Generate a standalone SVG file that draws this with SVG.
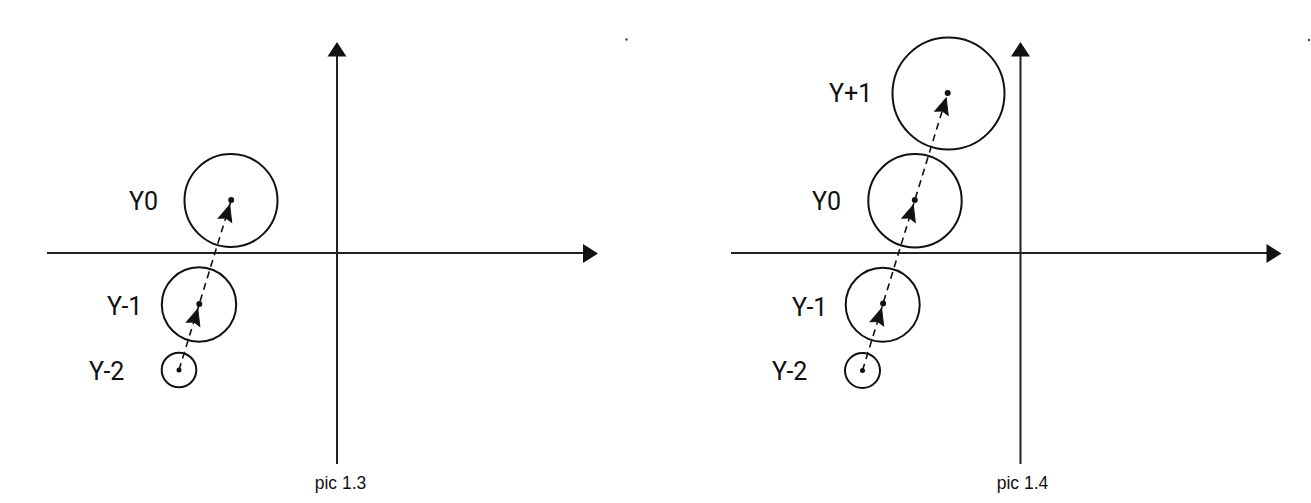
<svg xmlns="http://www.w3.org/2000/svg" width="1311" height="503" viewBox="0 0 1311 503">
<style>
.axis{stroke:#222;stroke-width:2;fill:none}
.ah{fill:#111;stroke:none}
.dart{fill:#111;stroke:#111;stroke-width:1;stroke-linejoin:miter}
.c{fill:none;stroke:#111;stroke-width:2}
.dot{fill:#111}
.dash{stroke:#111;stroke-width:1.6;stroke-dasharray:7 5;fill:none}
.lbl{font-family:Roboto,"DejaVu Sans",sans-serif;font-size:25px;fill:#111}
.cap{font-family:"Liberation Sans",Arial,sans-serif;font-size:17.5px;fill:#111;text-anchor:middle}
</style>
<rect width="1311" height="503" fill="#fff"/>

<g id="connectors">
  <!-- left axes -->
  <line class="axis" x1="47" y1="253" x2="584" y2="253"/>
  <path class="ah" d="M583,244 L598,253.5 L583,263 Z"/>
  <line class="axis" x1="337" y1="464" x2="337" y2="56"/>
  <path class="ah" d="M327.5,56.5 L337,42 L346.5,56.5 Z"/>
  <!-- right axes -->
  <line class="axis" x1="731" y1="253" x2="1267" y2="253"/>
  <path class="ah" d="M1266.5,244 L1281.5,253.5 L1266.5,263 Z"/>
  <line class="axis" x1="1020.5" y1="464" x2="1020.5" y2="56"/>
  <path class="ah" d="M1011,56.5 L1020.5,42 L1030,56.5 Z"/>
  <!-- left trajectory -->
  <line class="dash" x1="179" y1="370" x2="231.2" y2="200"/>
  <path class="dart" d="M0,0 L7,16 L0,13.5 L-7,16 Z" transform="translate(229.7,205) rotate(17)"/>
  <path class="dart" d="M0,0 L7,16 L0,13.5 L-7,16 Z" transform="translate(197.8,309) rotate(17)"/>
  <!-- right trajectory -->
  <line class="dash" x1="862.5" y1="370.5" x2="947.7" y2="93"/>
  <path class="dart" d="M0,0 L7,16 L0,13.5 L-7,16 Z" transform="translate(946.2,98) rotate(17)"/>
  <path class="dart" d="M0,0 L7,16 L0,13.5 L-7,16 Z" transform="translate(913.3,205) rotate(17)"/>
  <path class="dart" d="M0,0 L7,16 L0,13.5 L-7,16 Z" transform="translate(881.6,308.5) rotate(17)"/>
</g>

<g id="left-Y0">
  <circle class="c" cx="231" cy="200.5" r="46.5"/>
  <circle class="dot" cx="231.2" cy="200" r="3"/>
  <text class="lbl" x="129" y="209.5">Y0</text>
</g>
<g id="left-Y-1">
  <circle class="c" cx="199" cy="304.5" r="37.2"/>
  <circle class="dot" cx="199.3" cy="304" r="3"/>
  <text class="lbl" x="107" y="314.5">Y-1</text>
</g>
<g id="left-Y-2">
  <circle class="c" cx="179" cy="370" r="17.3"/>
  <circle class="dot" cx="179" cy="370" r="2.5"/>
  <text class="lbl" x="89" y="379.5">Y-2</text>
</g>

<g id="right-Y+1">
  <circle class="c" cx="948.5" cy="93.5" r="56"/>
  <circle class="dot" cx="947.7" cy="93" r="3"/>
  <text class="lbl" x="829" y="101.5">Y+1</text>
</g>
<g id="right-Y0">
  <circle class="c" cx="915" cy="200.7" r="46.7"/>
  <circle class="dot" cx="914.8" cy="200" r="3"/>
  <text class="lbl" x="812" y="210">Y0</text>
</g>
<g id="right-Y-1">
  <circle class="c" cx="882.7" cy="304.7" r="37"/>
  <circle class="dot" cx="883.1" cy="303.5" r="3"/>
  <text class="lbl" x="792" y="316">Y-1</text>
</g>
<g id="right-Y-2">
  <circle class="c" cx="862.5" cy="370.5" r="17.5"/>
  <circle class="dot" cx="862.5" cy="370.5" r="2.5"/>
  <text class="lbl" x="772" y="380">Y-2</text>
</g>

<g id="captions">
  <text class="cap" x="340.5" y="489">pic 1.3</text>
  <text class="cap" x="1022.5" y="489">pic 1.4</text>
</g>
<g id="specks" fill="#444">
  <circle cx="626.5" cy="39.5" r="1.2"/>
  <circle cx="1309" cy="40" r="1.2"/>
</g>
</svg>
